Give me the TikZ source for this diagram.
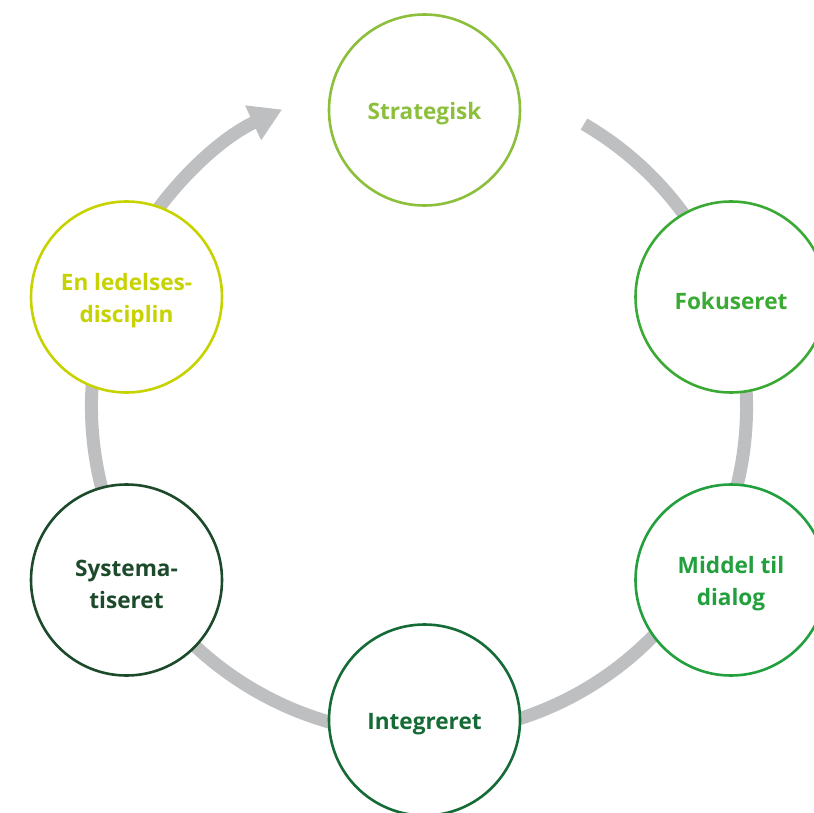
\documentclass[tikz,border=0pt]{standalone}
\usepackage{fontspec}
\setmainfont{Open Sans}
\usetikzlibrary{arrows.meta}

\definecolor{ringgray}{HTML}{BEBFC1}
\definecolor{cStrat}{HTML}{8CBF3C}
\definecolor{cFokus}{HTML}{3AAA35}
\definecolor{cMiddel}{HTML}{23A03E}
\definecolor{cInteg}{HTML}{156B35}
\definecolor{cSystem}{HTML}{1C4A2A}
\definecolor{cLedel}{HTML}{C6D300}

\tikzset{
  stage/.style={circle, draw=#1, line width=2.6pt, fill=white,
    minimum size=191pt, inner sep=0pt},
  stagetext/.style={text=#1, align=center, inner sep=0pt, yshift=-4pt,
    font=\fontsize{22.6}{32}\selectfont\bfseries},
  ring/.style={draw=ringgray, line width=13pt, line cap=butt}
}

\begin{document}
\begin{tikzpicture}[x=1pt, y=-1pt]
  \useasboundingbox (0,0) rectangle (814,813);
  \clip (0,0) rectangle (814,813);

  % centre of the cycle
  \coordinate (hub) at (419,407);
  \coordinate (ringstart) at ([shift={(-59.75:327.5)}]hub);

  % grey cycle arrow running clockwise behind the stages
  \draw[ring, -{Triangle[width=36pt, length=32pt]}]
    (ringstart) arc[start angle=-59.75, end angle=245.3, radius=327.5];

  % stages of the cycle
  \node[stage=cStrat,  label={[stagetext=cStrat]center:Strategisk}]
    (strat)  at (424.5,110) {};
  \node[stage=cFokus,  label={[stagetext=cFokus]center:Fokuseret}]
    (fokus)  at (731,297)   {};
  \node[stage=cMiddel, label={[stagetext=cMiddel]center:Middel til\\dialog}]
    (middel) at (731,580)   {};
  \node[stage=cInteg,  label={[stagetext=cInteg]center:Integreret}]
    (integ)  at (424.5,720) {};
  \node[stage=cSystem, label={[stagetext=cSystem]center:Systema-\\tiseret}]
    (system) at (126.5,580) {};
  \node[stage=cLedel,  label={[stagetext=cLedel]center:En ledelses-\\disciplin}]
    (ledel)  at (126.5,297) {};
\end{tikzpicture}
\end{document}
